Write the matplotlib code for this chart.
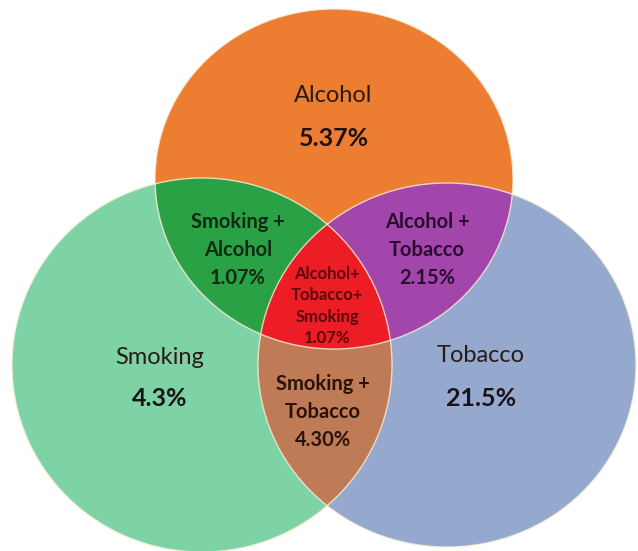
import numpy as np
import matplotlib
matplotlib.use('Agg')
import matplotlib.pyplot as plt
from matplotlib.patches import Ellipse, Polygon

plt.rcParams['font.family'] = ['Lato', 'DejaVu Sans']

# data
set_names = ['Alcohol', 'Smoking', 'Tobacco']
set_values = ['5.37%', '4.3%', '21.5%']
pair_names = ['Smoking +\nAlcohol', 'Alcohol +\nTobacco', 'Smoking +\nTobacco']
pair_values = ['1.07%', '2.15%', '4.30%']
triple_name = 'Alcohol+\nTobacco+\nSmoking'
triple_value = '1.07%'

# layout (pixel coordinates)
centers = [(334, 179), (202, 365), (447, 365)]
radii = [(179, 170), (190, 187), (189, 182)]
set_colors = ['#ED7D31', '#7DD3A5', '#94A9CD']
pair_colors = ['#2BA146', '#A346AC', '#BF7A56']  # A&S, A&T, S&T
triple_color = '#EC1D25'

fig = plt.figure(figsize=(6.38, 5.51), dpi=100)
ax = fig.add_axes([0, 0, 1, 1])
ax.set_xlim(0, 638)
ax.set_ylim(551, 0)
ax.axis('off')


def ell(i, **kw):
    (cx, cy), (rx, ry) = centers[i], radii[i]
    return Ellipse((cx, cy), 2 * rx, 2 * ry, **kw)


def inside(i, pts):
    (cx, cy), (rx, ry) = centers[i], radii[i]
    return ((pts[:, 0] - cx) / rx) ** 2 + ((pts[:, 1] - cy) / ry) ** 2 <= 1


def boundary(i, n=720):
    (cx, cy), (rx, ry) = centers[i], radii[i]
    t = np.linspace(0, 2 * np.pi, n, endpoint=False)
    return np.column_stack([cx + rx * np.cos(t), cy + ry * np.sin(t)])


# full sets
for i in range(3):
    ax.add_patch(ell(i, facecolor=set_colors[i], edgecolor='none', zorder=1))

# pairwise overlaps: one ellipse clipped by another
pairs = [(1, 0), (2, 0), (2, 1)]
for (a, b), col in zip(pairs, pair_colors):
    clip = ell(b, transform=ax.transData)
    p = ell(a, facecolor=col, edgecolor='none', zorder=2)
    ax.add_patch(p)
    p.set_clip_path(clip)

# triple overlap: convex hull of Smoking & Tobacco overlap, Alcohol clipped to it
pa, pb = boundary(1), boundary(2)
pts = np.vstack([pa[inside(2, pa)], pb[inside(1, pb)]])
c = pts.mean(axis=0)
pts = pts[np.argsort(np.arctan2(pts[:, 1] - c[1], pts[:, 0] - c[0]))]
clip = Polygon(pts, closed=True, transform=ax.transData)
p = ell(0, facecolor=triple_color, edgecolor='none', zorder=3)
ax.add_patch(p)
p.set_clip_path(clip)

# thin light outlines
for i in range(3):
    ax.add_patch(ell(i, facecolor='none', edgecolor='#FBEFD8', lw=1.0, alpha=0.8, zorder=4))

# labels
name_pos = [(333, 95), (160, 358), (481, 356)]
val_pos = [(334, 139), (160, 399), (481, 399)]
for name, val, npos, vpos in zip(set_names, set_values, name_pos, val_pos):
    ax.text(*npos, name, ha='center', va='center', fontsize=17, color='#2a1a14', zorder=5)
    ax.text(*vpos, val, ha='center', va='center', fontsize=18, fontweight='bold',
            color='#1a1216', zorder=5)

pair_pos = [(238, 250), (427, 250), (323, 412)]
pair_text_colors = ['#0E2A12', '#2A0B30', '#2A1208']
for name, val, pos, tc in zip(pair_names, pair_values, pair_pos, pair_text_colors):
    ax.text(*pos, name + '\n' + val, ha='center', va='center', fontsize=14.5,
            fontweight='bold', color=tc, linespacing=1.5, zorder=5)

ax.text(327, 306, triple_name + '\n' + triple_value, ha='center', va='center',
        fontsize=12, fontweight='bold', color='#5A0A0C', linespacing=1.4, zorder=5)

fig.savefig('out.png', dpi=100, facecolor='white')
